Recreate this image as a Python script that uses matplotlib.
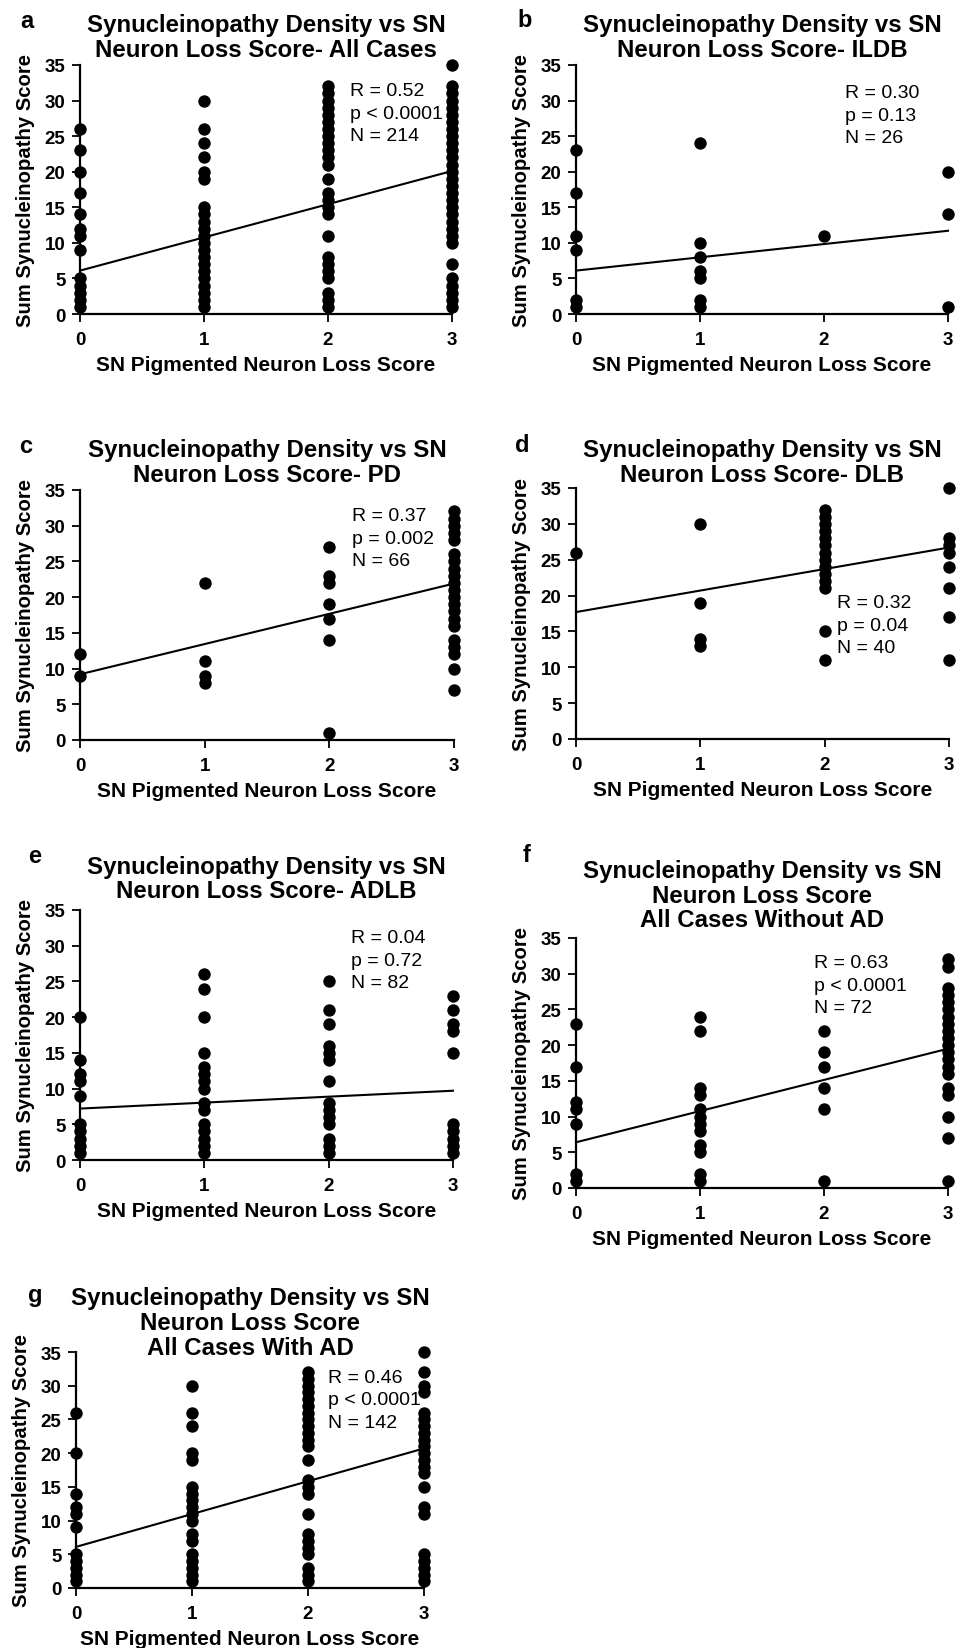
import matplotlib
matplotlib.use("Agg")
import matplotlib.pyplot as plt

plt.rcParams['font.family'] = ['Liberation Sans', 'DejaVu Sans']

loss_scores = [0, 1, 2, 3]
x_label = "SN Pigmented Neuron Loss Score"
y_label = "Sum Synucleinopathy Score"
y_ticks = [0, 5, 10, 15, 20, 25, 30, 35]

# a - all cases
a_title = "Synucleinopathy Density vs SN\nNeuron Loss Score- All Cases"
a_scores = [
    [1, 2, 3, 4, 5, 9, 11, 12, 14, 17, 20, 23, 26],
    [1, 2, 3, 4, 5, 6, 7, 8, 9, 10, 11, 12, 13, 14, 15, 19, 20, 22, 24, 26, 30],
    [1, 2, 3, 5, 6, 7, 8, 11, 14, 15, 16, 17, 19, 21, 22, 23, 24, 25, 26, 27,
     28, 29, 30, 31, 32],
    [1, 2, 3, 4, 5, 7, 10, 11, 12, 13, 14, 15, 16, 17, 18, 19, 20, 21, 22, 23,
     24, 25, 26, 27, 28, 29, 30, 31, 32, 35],
]
a_fit = [6.1, 20.1]
a_stats = "R = 0.52\np < 0.0001\nN = 214"

# b - ILDB
b_title = "Synucleinopathy Density vs SN\nNeuron Loss Score- ILDB"
b_scores = [
    [1, 2, 9, 11, 17, 23],
    [1, 2, 5, 6, 8, 10, 24],
    [11],
    [1, 14, 20],
]
b_fit = [6.1, 11.7]
b_stats = "R = 0.30\np = 0.13\nN = 26"

# c - PD
c_title = "Synucleinopathy Density vs SN\nNeuron Loss Score- PD"
c_scores = [
    [9, 12],
    [8, 9, 11, 22],
    [1, 14, 17, 19, 22, 23, 27],
    [7, 10, 12, 13, 14, 16, 17, 18, 19, 20, 21, 22, 23, 24, 25, 26, 28, 29,
     30, 31, 32],
]
c_fit = [9.2, 21.9]
c_stats = "R = 0.37\np = 0.002\nN = 66"

# d - DLB
d_title = "Synucleinopathy Density vs SN\nNeuron Loss Score- DLB"
d_scores = [
    [26],
    [13, 14, 19, 30],
    [11, 15, 21, 22, 23, 24, 25, 26, 27, 28, 29, 30, 31, 32],
    [11, 17, 21, 24, 26, 27, 28, 35],
]
d_fit = [17.7, 26.7]
d_stats = "R = 0.32\np = 0.04\nN = 40"

# e - ADLB
e_title = "Synucleinopathy Density vs SN\nNeuron Loss Score- ADLB"
e_scores = [
    [1, 2, 3, 4, 5, 9, 11, 12, 14, 20],
    [1, 2, 3, 4, 5, 7, 8, 10, 11, 12, 13, 15, 20, 24, 26],
    [1, 2, 3, 5, 6, 7, 8, 11, 14, 15, 16, 19, 21, 25],
    [1, 2, 3, 4, 5, 15, 18, 19, 21, 23],
]
e_fit = [7.2, 9.7]
e_stats = "R = 0.04\np = 0.72\nN = 82"

# f - all cases without AD
f_title = "Synucleinopathy Density vs SN\nNeuron Loss Score\nAll Cases Without AD"
f_scores = [
    [1, 2, 9, 11, 12, 17, 23],
    [1, 2, 5, 6, 8, 9, 10, 11, 13, 14, 22, 24],
    [1, 11, 14, 17, 19, 22],
    [1, 7, 10, 13, 14, 16, 17, 18, 19, 20, 21, 22, 23, 24, 25, 26, 27, 28,
     31, 32],
]
f_fit = [6.4, 19.5]
f_stats = "R = 0.63\np < 0.0001\nN = 72"

# g - all cases with AD
g_title = "Synucleinopathy Density vs SN\nNeuron Loss Score\nAll Cases With AD"
g_scores = [
    [1, 2, 3, 4, 5, 9, 11, 12, 14, 20, 26],
    [1, 2, 3, 4, 5, 7, 8, 10, 11, 12, 13, 14, 15, 19, 20, 24, 26, 30],
    [1, 2, 3, 5, 6, 7, 8, 11, 14, 15, 16, 19, 21, 22, 23, 24, 25, 26, 27, 28,
     29, 30, 31, 32],
    [1, 2, 3, 4, 5, 11, 12, 15, 17, 18, 19, 20, 21, 22, 23, 24, 25, 26, 29,
     30, 32, 35],
]
g_fit = [6.1, 20.7]
g_stats = "R = 0.46\np < 0.0001\nN = 142"

W, H = 968, 1649
fig = plt.figure(figsize=(W / 100, H / 100), dpi=100)


def rect(left, right, bottom, top):
    # pixel box -> figure fraction
    return [left / W, 1 - bottom / H, (right - left) / W, (bottom - top) / H]


# (letter, title, scores, fit, stats, axes box px, stats xy, title pad pt, letter xy px)
panels = [
    ("a", a_title, a_scores, a_fit, a_stats, (80, 452, 315, 66), (2.18, 32.6), 6.3, (27, 28)),
    ("b", b_title, b_scores, b_fit, b_stats, (576, 948, 315, 66), (2.17, 32.3), 6.3, (525, 27)),
    ("c", c_title, c_scores, c_fit, c_stats, (80, 454, 741, 491), (2.18, 32.6), 6.5, (26, 453)),
    ("d", d_title, d_scores, d_fit, d_stats, (576, 949, 740, 489), (2.10, 20.2), 5.0, (522, 452)),
    ("e", e_title, e_scores, e_fit, e_stats, (80, 453, 1161, 911), (2.18, 32.3), 9.1, (35, 863)),
    ("f", f_title, f_scores, f_fit, f_stats, (576, 948, 1189, 939), (1.92, 32.7), 8.4, (527, 862)),
    ("g", g_title, g_scores, g_fit, g_stats, (76, 424, 1589, 1353), (2.17, 32.5), -1.2, (35, 1302)),
]

for letter, title, scores, fit, stats, box, sxy, tpad, lxy in panels:
    ax = fig.add_axes(rect(*box))
    for x, col in zip(loss_scores, scores):
        ax.scatter([x] * len(col), col, s=80, color="black", linewidths=0,
                   clip_on=False, zorder=3)
    ax.plot([loss_scores[0], loss_scores[-1]], fit, color="black", lw=1.5,
            clip_on=False, zorder=2)

    ax.set_xlim(0, 3)
    ax.set_ylim(0, 35)
    ax.set_xticks(loss_scores)
    ax.set_yticks(y_ticks)
    for side in ("top", "right"):
        ax.spines[side].set_visible(False)
    for side in ("left", "bottom"):
        ax.spines[side].set_linewidth(1.6)
    ax.tick_params(direction="out", width=1.3, labelsize=13.5)
    ax.tick_params(axis="x", length=6, pad=6)
    ax.tick_params(axis="y", length=6, pad=4.5)
    for lbl in ax.get_xticklabels() + ax.get_yticklabels():
        lbl.set_fontweight("bold")

    ax.set_xlabel(x_label, fontsize=15, fontweight="bold", labelpad=5)
    ax.set_ylabel(y_label, fontsize=14.6, fontweight="bold", labelpad=7)

    ax.annotate(title, xy=(0.5, 1), xycoords="axes fraction", xytext=(0, tpad),
                textcoords="offset points", ha="center", va="baseline",
                fontsize=17.3, fontweight="bold", linespacing=1.1)
    ax.text(sxy[0], sxy[1], stats, ha="left", va="top", fontsize=14,
            linespacing=1.42, zorder=4)

    fig.text(lxy[0] / W, 1 - lxy[1] / H, letter, ha="center", va="baseline",
             fontsize=17, fontweight="bold")

fig.savefig("out.png", dpi=100)
